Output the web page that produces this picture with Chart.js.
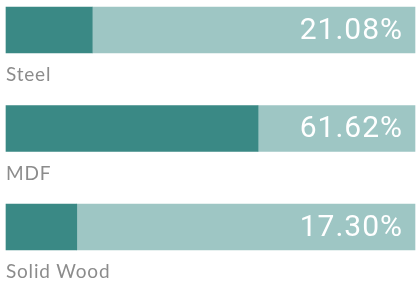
<!DOCTYPE html>
<html>
<head>
<meta charset="utf-8">
<script src="https://cdn.jsdelivr.net/npm/chart.js@4/dist/chart.umd.min.js"></script>
<style>
  html, body { margin: 0; padding: 0; background: #fff; }
  #wrap { width: 416px; height: 283px; }
</style>
</head>
<body>
<div id="wrap"><canvas id="myChart"></canvas></div>
<script>
// Material shares (%)
var materials = ["Steel", "MDF", "Solid Wood"];
var shares = [21.08, 61.62, 17.30];
var rest = shares.map(function (v) { return 100 - v; });

// draw the category name under each bar and the % inside at the right
var barText = {
  id: "barText",
  afterDatasetsDraw: function (chart) {
    var ctx = chart.ctx;
    var area = chart.chartArea;
    var meta = chart.getDatasetMeta(0);
    ctx.save();
    meta.data.forEach(function (bar, i) {
      ctx.fillStyle = "#ffffff";
      ctx.font = "400 30px Roboto";
      ctx.letterSpacing = "1px";
      ctx.textAlign = "right";
      ctx.textBaseline = "middle";
      ctx.fillText(shares[i].toFixed(2) + "%", area.right - 12, bar.y + 1);

      ctx.fillStyle = "#8c8c8c";
      ctx.font = "19px Lato";
      ctx.letterSpacing = "0.8px";
      ctx.textAlign = "left";
      ctx.textBaseline = "alphabetic";
      ctx.fillText(materials[i], area.left, bar.y + 51);
    });
    ctx.restore();
  }
};

var myChart = document.getElementById("myChart").getContext("2d");
var chart = new Chart(myChart, {
  type: "bar",
  data: {
    labels: materials,
    datasets: [
      {
        data: shares,
        backgroundColor: "#3a8985",
        barThickness: 46,
        clip: false,
      },
      {
        data: rest,
        backgroundColor: "#9ec6c4",
        barThickness: 46,
        clip: false,
      },
    ],
  },
  options: {
    indexAxis: "y",
    responsive: true,
    maintainAspectRatio: false,
    animation: false,
    layout: { padding: { left: 6, right: 1, top: 30, bottom: 56 } },
    scales: {
      x: { stacked: true, min: 0, max: 100, display: false },
      y: { stacked: true, offset: false, display: false },
    },
    plugins: {
      legend: { display: false },
      tooltip: { enabled: false },
    },
  },
  plugins: [barText],
});
</script>
</body>
</html>
